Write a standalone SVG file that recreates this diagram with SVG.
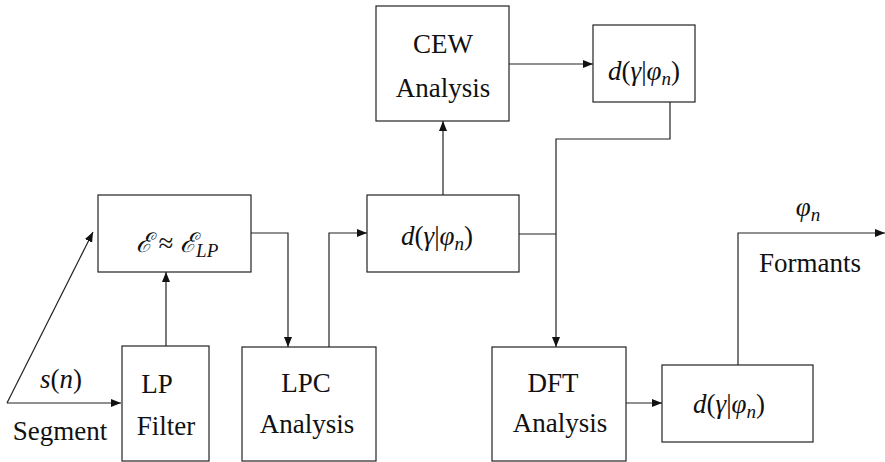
<svg xmlns="http://www.w3.org/2000/svg" width="885" height="462" viewBox="0 0 885 462" font-family="Liberation Serif">
  <style>
    .box { fill: #ffffff; stroke: #222222; stroke-width: 1.2; }
    .wire { fill: none; stroke: #222222; stroke-width: 1.2; }
    .txt { font-family: "Liberation Serif", "DejaVu Serif", serif; font-size: 27px; fill: #111111; text-anchor: middle; }
    .m { font-style: italic; }
    .sub { font-size: 19px; font-style: italic; }
  </style>
  <defs>
    <marker id="arrow" viewBox="0 0 10 8" refX="10" refY="4" markerWidth="10" markerHeight="8" markerUnits="userSpaceOnUse" orient="auto">
      <path d="M0,0 L10,4 L0,8 Z" fill="#111111"/>
    </marker>
  </defs>

  <!-- connectors -->
  <g id="connectors">
    <!-- input segment -->
    <path class="wire" d="M7,403 L121,403" marker-end="url(#arrow)"/>
    <path class="wire" d="M7,403 L93,232" marker-end="url(#arrow)"/>
    <!-- LP filter to energy block -->
    <path class="wire" d="M166,346 L166,272" marker-end="url(#arrow)"/>
    <!-- energy block to LPC analysis -->
    <path class="wire" d="M251,233 L288,233 L288,347" marker-end="url(#arrow)"/>
    <!-- LPC analysis to distance block -->
    <path class="wire" d="M329,347 L329,233 L367,233" marker-end="url(#arrow)"/>
    <!-- distance block to CEW analysis -->
    <path class="wire" d="M443,195 L443,121" marker-end="url(#arrow)"/>
    <!-- CEW analysis to upper distance block -->
    <path class="wire" d="M509,64 L593,64" marker-end="url(#arrow)"/>
    <!-- upper distance block down to DFT analysis -->
    <path class="wire" d="M670,102 L670,139 L556,139 L556,347" marker-end="url(#arrow)"/>
    <!-- middle distance block joins the bus -->
    <path class="wire" d="M519,234 L556,234"/>
    <!-- DFT analysis to lower distance block -->
    <path class="wire" d="M626,403 L662,403" marker-end="url(#arrow)"/>
    <!-- formant output -->
    <path class="wire" d="M738,365 L738,233 L885,233" marker-end="url(#arrow)"/>
  </g>

  <!-- free labels -->
  <g id="labels">
    <text class="txt" x="61" y="388"><tspan class="m">s</tspan>(<tspan class="m">n</tspan>)</text>
    <text class="txt" x="60" y="440">Segment</text>
    <text class="txt" x="808" y="216"><tspan class="m">φ</tspan><tspan class="sub" dy="5">n</tspan></text>
    <text class="txt" x="810" y="272">Formants</text>
  </g>

  <g id="energy">
    <rect class="box" x="98" y="195" width="153" height="77"/>
    <text class="txt" x="177" y="252"><tspan class="m">ℰ</tspan> ≈ <tspan class="m">ℰ</tspan><tspan class="sub" dy="5">LP</tspan></text>
  </g>

  <g id="lp-filter">
    <rect class="box" x="122" y="346" width="87" height="115"/>
    <text class="txt" x="157" y="393">LP</text>
    <text class="txt" x="166" y="435">Filter</text>
  </g>

  <g id="lpc-analysis">
    <rect class="box" x="242" y="347" width="134" height="114"/>
    <text class="txt" x="306" y="392">LPC</text>
    <text class="txt" x="307" y="433">Analysis</text>
  </g>

  <g id="distance-mid">
    <rect class="box" x="367" y="195" width="152" height="77"/>
    <text class="txt" x="437" y="245"><tspan class="m">d</tspan>(<tspan class="m">γ</tspan>|<tspan class="m">φ</tspan><tspan class="sub" dy="5">n</tspan><tspan dy="-5">)</tspan></text>
  </g>

  <g id="cew-analysis">
    <rect class="box" x="376" y="6" width="133" height="115"/>
    <text class="txt" x="443" y="53">CEW</text>
    <text class="txt" x="443" y="97">Analysis</text>
  </g>

  <g id="distance-top">
    <rect class="box" x="593" y="25" width="102" height="77"/>
    <text class="txt" x="644" y="80"><tspan class="m">d</tspan>(<tspan class="m">γ</tspan>|<tspan class="m">φ</tspan><tspan class="sub" dy="5">n</tspan><tspan dy="-5">)</tspan></text>
  </g>

  <g id="dft-analysis">
    <rect class="box" x="492" y="347" width="134" height="114"/>
    <text class="txt" x="553" y="392">DFT</text>
    <text class="txt" x="560" y="432">Analysis</text>
  </g>

  <g id="distance-bottom">
    <rect class="box" x="662" y="365" width="151" height="77"/>
    <text class="txt" x="729" y="413"><tspan class="m">d</tspan>(<tspan class="m">γ</tspan>|<tspan class="m">φ</tspan><tspan class="sub" dy="5">n</tspan><tspan dy="-5">)</tspan></text>
  </g>
</svg>
